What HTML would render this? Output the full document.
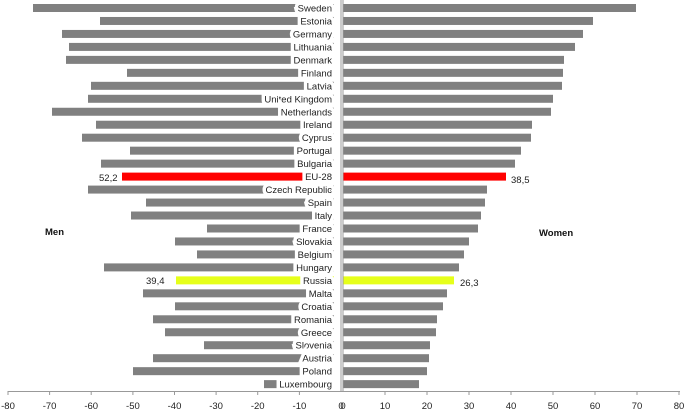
<!DOCTYPE html>
<html><head><meta charset="utf-8"><style>
html,body{margin:0;padding:0;background:#fff;}
svg{display:block;font-family:"Liberation Sans",sans-serif;}
.l{font-size:9.5px;fill:#222;text-anchor:end;stroke:#fff;stroke-width:7px;paint-order:stroke;stroke-linejoin:miter;}
</style></head><body>
<svg width="685" height="414" viewBox="0 0 685 414" xmlns="http://www.w3.org/2000/svg">
<g fill="#808080">
<g transform="translate(0,8)"><rect x="33" y="-4" width="301" height="8"/><rect x="343" y="-4" width="293" height="8"/><text class="l" x="332" y="3.5">Sweden</text></g>
<g transform="translate(0,20.97)"><rect x="100" y="-4" width="234" height="8"/><rect x="343" y="-4" width="250" height="8"/><text class="l" x="332" y="3.5">Estonia</text></g>
<g transform="translate(0,33.94)"><rect x="62" y="-4" width="272" height="8"/><rect x="343" y="-4" width="240" height="8"/><text class="l" x="332" y="3.5">Germany</text></g>
<g transform="translate(0,46.91)"><rect x="69" y="-4" width="265" height="8"/><rect x="343" y="-4" width="232" height="8"/><text class="l" x="332" y="3.5">Lithuania</text></g>
<g transform="translate(0,59.88)"><rect x="66" y="-4" width="268" height="8"/><rect x="343" y="-4" width="221" height="8"/><text class="l" x="332" y="3.5">Denmark</text></g>
<g transform="translate(0,72.85)"><rect x="127" y="-4" width="207" height="8"/><rect x="343" y="-4" width="220" height="8"/><text class="l" x="332" y="3.5">Finland</text></g>
<g transform="translate(0,85.82)"><rect x="91" y="-4" width="243" height="8"/><rect x="343" y="-4" width="219" height="8"/><text class="l" x="332" y="3.5">Latvia</text></g>
<g transform="translate(0,98.79)"><rect x="88" y="-4" width="246" height="8"/><rect x="343" y="-4" width="210" height="8"/><text class="l" x="332" y="3.5">United Kingdom</text></g>
<g transform="translate(0,111.76)"><rect x="52" y="-4" width="282" height="8"/><rect x="343" y="-4" width="208" height="8"/><text class="l" x="332" y="3.5">Netherlands</text></g>
<g transform="translate(0,124.73)"><rect x="96" y="-4" width="238" height="8"/><rect x="343" y="-4" width="189" height="8"/><text class="l" x="332" y="3.5">Ireland</text></g>
<g transform="translate(0,137.7)"><rect x="82" y="-4" width="252" height="8"/><rect x="343" y="-4" width="188" height="8"/><text class="l" x="332" y="3.5">Cyprus</text></g>
<g transform="translate(0,150.67)"><rect x="130" y="-4" width="204" height="8"/><rect x="343" y="-4" width="178" height="8"/><text class="l" x="332" y="3.5">Portugal</text></g>
<g transform="translate(0,163.64)"><rect x="101" y="-4" width="233" height="8"/><rect x="343" y="-4" width="172" height="8"/><text class="l" x="332" y="3.5">Bulgaria</text></g>
<g transform="translate(0,176.61)" fill="#ff0000"><rect x="122" y="-4" width="212" height="8"/><rect x="343" y="-4" width="163" height="8"/><text class="l" x="332" y="3.5">EU-28</text></g>
<g transform="translate(0,189.58)"><rect x="88" y="-4" width="246" height="8"/><rect x="343" y="-4" width="144" height="8"/><text class="l" x="332" y="3.5">Czech Republic</text></g>
<g transform="translate(0,202.55)"><rect x="146" y="-4" width="188" height="8"/><rect x="343" y="-4" width="142" height="8"/><text class="l" x="332" y="3.5">Spain</text></g>
<g transform="translate(0,215.52)"><rect x="131" y="-4" width="203" height="8"/><rect x="343" y="-4" width="138" height="8"/><text class="l" x="332" y="3.5">Italy</text></g>
<g transform="translate(0,228.49)"><rect x="207" y="-4" width="127" height="8"/><rect x="343" y="-4" width="135" height="8"/><text class="l" x="332" y="3.5">France</text></g>
<g transform="translate(0,241.46)"><rect x="175" y="-4" width="159" height="8"/><rect x="343" y="-4" width="126" height="8"/><text class="l" x="332" y="3.5">Slovakia</text></g>
<g transform="translate(0,254.43)"><rect x="197" y="-4" width="137" height="8"/><rect x="343" y="-4" width="121" height="8"/><text class="l" x="332" y="3.5">Belgium</text></g>
<g transform="translate(0,267.4)"><rect x="104" y="-4" width="230" height="8"/><rect x="343" y="-4" width="116" height="8"/><text class="l" x="332" y="3.5">Hungary</text></g>
<g transform="translate(0,280.37)" fill="#e6ff1a"><rect x="176" y="-4" width="158" height="8"/><rect x="343" y="-4" width="111" height="8"/><text class="l" x="332" y="3.5">Russia</text></g>
<g transform="translate(0,293.34)"><rect x="143" y="-4" width="191" height="8"/><rect x="343" y="-4" width="104" height="8"/><text class="l" x="332" y="3.5">Malta</text></g>
<g transform="translate(0,306.31)"><rect x="175" y="-4" width="159" height="8"/><rect x="343" y="-4" width="100" height="8"/><text class="l" x="332" y="3.5">Croatia</text></g>
<g transform="translate(0,319.28)"><rect x="153" y="-4" width="181" height="8"/><rect x="343" y="-4" width="94" height="8"/><text class="l" x="332" y="3.5">Romania</text></g>
<g transform="translate(0,332.25)"><rect x="165" y="-4" width="169" height="8"/><rect x="343" y="-4" width="93" height="8"/><text class="l" x="332" y="3.5">Greece</text></g>
<g transform="translate(0,345.22)"><rect x="204" y="-4" width="130" height="8"/><rect x="343" y="-4" width="87" height="8"/><text class="l" x="332" y="3.5">Slovenia</text></g>
<g transform="translate(0,358.19)"><rect x="153" y="-4" width="181" height="8"/><rect x="343" y="-4" width="86" height="8"/><text class="l" x="332" y="3.5">Austria</text></g>
<g transform="translate(0,371.16)"><rect x="133" y="-4" width="201" height="8"/><rect x="343" y="-4" width="84" height="8"/><text class="l" x="332" y="3.5">Poland</text></g>
<g transform="translate(0,384.13)"><rect x="264" y="-4" width="70" height="8"/><rect x="343" y="-4" width="76" height="8"/><text class="l" x="332" y="3.5">Luxembourg</text></g>
</g>
<line x1="341" y1="0" x2="341" y2="392" stroke="#999"/>
<line x1="343" y1="0" x2="343" y2="392" stroke="#999"/>
<line x1="8" y1="391.5" x2="680" y2="391.5" stroke="#999"/>
<g stroke="#999">
<line x1="8" x2="8" y1="391" y2="395"/><line x1="49.6" x2="49.6" y1="391" y2="395"/><line x1="91.2" x2="91.2" y1="391" y2="395"/><line x1="132.9" x2="132.9" y1="391" y2="395"/><line x1="174.5" x2="174.5" y1="391" y2="395"/><line x1="216.1" x2="216.1" y1="391" y2="395"/><line x1="257.7" x2="257.7" y1="391" y2="395"/><line x1="299.4" x2="299.4" y1="391" y2="395"/>
<line x1="385" x2="385" y1="391" y2="395"/><line x1="427" x2="427" y1="391" y2="395"/><line x1="469" x2="469" y1="391" y2="395"/><line x1="511" x2="511" y1="391" y2="395"/><line x1="553" x2="553" y1="391" y2="395"/><line x1="595" x2="595" y1="391" y2="395"/><line x1="637" x2="637" y1="391" y2="395"/><line x1="679" x2="679" y1="391" y2="395"/>
</g>
<g font-size="9.5" fill="#222" text-anchor="middle">
<text x="8" y="409">-80</text><text x="49.6" y="409">-70</text><text x="91.2" y="409">-60</text><text x="132.9" y="409">-50</text><text x="174.5" y="409">-40</text><text x="216.1" y="409">-30</text><text x="257.7" y="409">-20</text><text x="299.4" y="409">-10</text><text x="341" y="409">0</text>
<text x="343" y="409">0</text><text x="385" y="409">10</text><text x="427" y="409">20</text><text x="469" y="409">30</text><text x="511" y="409">40</text><text x="553" y="409">50</text><text x="595" y="409">60</text><text x="637" y="409">70</text><text x="679" y="409">80</text>
</g>
<text x="45" y="235" font-size="9.5" font-weight="bold" fill="#111">Men</text>
<text x="539" y="236" font-size="9.5" font-weight="bold" fill="#111">Women</text>
<g font-size="9.5" fill="#222">
<text x="99" y="181">52,2</text>
<text x="511" y="183">38,5</text>
<text x="146" y="284">39,4</text>
<text x="460" y="286">26,3</text>
</g>
</svg>
</body></html>
